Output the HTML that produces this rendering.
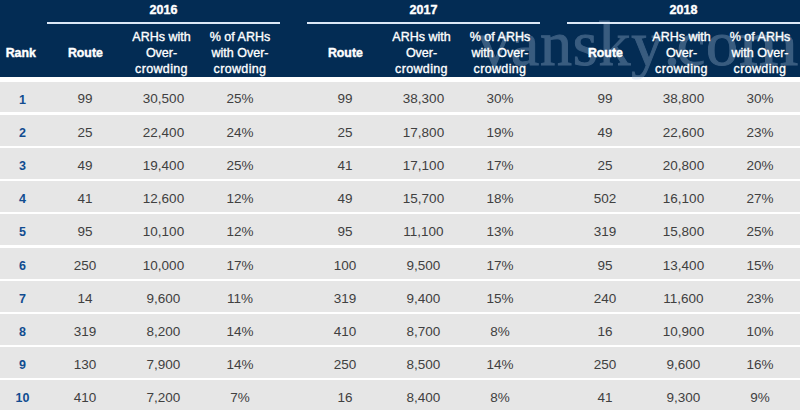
<!DOCTYPE html>
<html><head><meta charset="utf-8"><style>
*{margin:0;padding:0;box-sizing:border-box}
html,body{width:800px;height:410px;overflow:hidden;background:#fff}
body{position:relative;font-family:"Liberation Sans",sans-serif}
.hd{position:absolute;left:0;top:0;width:800px;height:77px;background:#032c54}
.yr{position:absolute;top:0;height:22px;line-height:21px;text-align:center;color:#fff;font-weight:bold;font-size:12.5px;-webkit-text-stroke:0.4px #fff}
.ul{position:absolute;top:22px;height:2px;background:#dbe8f7}
.hc{position:absolute;color:#fff;text-align:center;font-size:12.5px;line-height:16.4px;-webkit-text-stroke:0.35px #fff}
.hb{position:absolute;color:#fff;text-align:center;font-size:13.7px;font-weight:bold;-webkit-text-stroke:0.45px #fff}
.hb span{display:inline-block;transform:scaleX(0.9)}
.row{position:absolute;left:0;width:800px;background:#e6e6e6}
.c{position:absolute;top:0;text-align:center;font-size:13.5px;color:#404040}
.rk{position:absolute;top:0;left:0;width:45px;text-align:center;font-size:12.5px;font-weight:bold;color:#114c90}
.wm{position:absolute;left:478px;top:0;font-family:"Liberation Serif",serif;font-size:64px;letter-spacing:0.8px;color:rgb(176,198,224);opacity:0.31;-webkit-text-stroke:1px rgb(176,198,224);white-space:nowrap;line-height:1}
</style></head>
<body>
<div class="hd"></div>
<div class="wm" style="top:12px">vansky<span style="position:relative;left:4px">.</span>co<span style="display:inline-block;transform:scaleX(1.19);transform-origin:0 0">m</span></div>
<div class="yr" style="left:47px;width:233px">2016</div>
<div class="ul" style="left:47px;width:233px"></div>
<div class="yr" style="left:307px;width:233px">2017</div>
<div class="ul" style="left:307px;width:233px"></div>
<div class="yr" style="left:567px;width:233px">2018</div>
<div class="ul" style="left:567px;width:233px"></div>
<div class="hb" style="left:0;width:41px;top:45px;line-height:16px"><span>Rank</span></div>
<div class="hb" style="left:47px;width:76px;top:45px;line-height:16px"><span>Route</span></div>
<div class="hc" style="left:123px;width:77px;top:28.5px">ARHs with<br>Over-<br><span style="letter-spacing:0.35px">crowding</span></div>
<div class="hc" style="left:200px;width:80px;top:28.5px">% of ARHs<br>with Over-<br><span style="letter-spacing:0.35px">crowding</span></div>
<div class="hb" style="left:307px;width:76px;top:45px;line-height:16px"><span>Route</span></div>
<div class="hc" style="left:383px;width:77px;top:28.5px">ARHs with<br>Over-<br><span style="letter-spacing:0.35px">crowding</span></div>
<div class="hc" style="left:460px;width:80px;top:28.5px">% of ARHs<br>with Over-<br><span style="letter-spacing:0.35px">crowding</span></div>
<div class="hb" style="left:567px;width:76px;top:45px;line-height:16px"><span>Route</span></div>
<div class="hc" style="left:643px;width:77px;top:28.5px">ARHs with<br>Over-<br><span style="letter-spacing:0.35px">crowding</span></div>
<div class="hc" style="left:720px;width:80px;top:28.5px">% of ARHs<br>with Over-<br><span style="letter-spacing:0.35px">crowding</span></div>
<div class="row" style="top:82px;height:30px"><div class="rk" style="line-height:30px;padding-top:3px">1</div><div class="c" style="left:47px;width:76px;line-height:30px;padding-top:1.5px">99</div><div class="c" style="left:125px;width:77px;line-height:30px;padding-top:1.5px">30,500</div><div class="c" style="left:200px;width:80px;line-height:30px;padding-top:1.5px">25%</div><div class="c" style="left:307px;width:76px;line-height:30px;padding-top:1.5px">99</div><div class="c" style="left:385px;width:77px;line-height:30px;padding-top:1.5px">38,300</div><div class="c" style="left:460px;width:80px;line-height:30px;padding-top:1.5px">30%</div><div class="c" style="left:567px;width:76px;line-height:30px;padding-top:1.5px">99</div><div class="c" style="left:645px;width:77px;line-height:30px;padding-top:1.5px">38,800</div><div class="c" style="left:720px;width:80px;line-height:30px;padding-top:1.5px">30%</div></div>
<div class="row" style="top:115px;height:31px"><div class="rk" style="line-height:31px;padding-top:3px">2</div><div class="c" style="left:47px;width:76px;line-height:31px;padding-top:1.5px">25</div><div class="c" style="left:125px;width:77px;line-height:31px;padding-top:1.5px">22,400</div><div class="c" style="left:200px;width:80px;line-height:31px;padding-top:1.5px">24%</div><div class="c" style="left:307px;width:76px;line-height:31px;padding-top:1.5px">25</div><div class="c" style="left:385px;width:77px;line-height:31px;padding-top:1.5px">17,800</div><div class="c" style="left:460px;width:80px;line-height:31px;padding-top:1.5px">19%</div><div class="c" style="left:567px;width:76px;line-height:31px;padding-top:1.5px">49</div><div class="c" style="left:645px;width:77px;line-height:31px;padding-top:1.5px">22,600</div><div class="c" style="left:720px;width:80px;line-height:31px;padding-top:1.5px">23%</div></div>
<div class="row" style="top:148px;height:31px"><div class="rk" style="line-height:31px;padding-top:3px">3</div><div class="c" style="left:47px;width:76px;line-height:31px;padding-top:1.5px">49</div><div class="c" style="left:125px;width:77px;line-height:31px;padding-top:1.5px">19,400</div><div class="c" style="left:200px;width:80px;line-height:31px;padding-top:1.5px">25%</div><div class="c" style="left:307px;width:76px;line-height:31px;padding-top:1.5px">41</div><div class="c" style="left:385px;width:77px;line-height:31px;padding-top:1.5px">17,100</div><div class="c" style="left:460px;width:80px;line-height:31px;padding-top:1.5px">17%</div><div class="c" style="left:567px;width:76px;line-height:31px;padding-top:1.5px">25</div><div class="c" style="left:645px;width:77px;line-height:31px;padding-top:1.5px">20,800</div><div class="c" style="left:720px;width:80px;line-height:31px;padding-top:1.5px">20%</div></div>
<div class="row" style="top:181px;height:31px"><div class="rk" style="line-height:31px;padding-top:3px">4</div><div class="c" style="left:47px;width:76px;line-height:31px;padding-top:1.5px">41</div><div class="c" style="left:125px;width:77px;line-height:31px;padding-top:1.5px">12,600</div><div class="c" style="left:200px;width:80px;line-height:31px;padding-top:1.5px">12%</div><div class="c" style="left:307px;width:76px;line-height:31px;padding-top:1.5px">49</div><div class="c" style="left:385px;width:77px;line-height:31px;padding-top:1.5px">15,700</div><div class="c" style="left:460px;width:80px;line-height:31px;padding-top:1.5px">18%</div><div class="c" style="left:567px;width:76px;line-height:31px;padding-top:1.5px">502</div><div class="c" style="left:645px;width:77px;line-height:31px;padding-top:1.5px">16,100</div><div class="c" style="left:720px;width:80px;line-height:31px;padding-top:1.5px">27%</div></div>
<div class="row" style="top:214px;height:31px"><div class="rk" style="line-height:31px;padding-top:3px">5</div><div class="c" style="left:47px;width:76px;line-height:31px;padding-top:1.5px">95</div><div class="c" style="left:125px;width:77px;line-height:31px;padding-top:1.5px">10,100</div><div class="c" style="left:200px;width:80px;line-height:31px;padding-top:1.5px">12%</div><div class="c" style="left:307px;width:76px;line-height:31px;padding-top:1.5px">95</div><div class="c" style="left:385px;width:77px;line-height:31px;padding-top:1.5px">11,100</div><div class="c" style="left:460px;width:80px;line-height:31px;padding-top:1.5px">13%</div><div class="c" style="left:567px;width:76px;line-height:31px;padding-top:1.5px">319</div><div class="c" style="left:645px;width:77px;line-height:31px;padding-top:1.5px">15,800</div><div class="c" style="left:720px;width:80px;line-height:31px;padding-top:1.5px">25%</div></div>
<div class="row" style="top:248px;height:31px"><div class="rk" style="line-height:31px;padding-top:3px">6</div><div class="c" style="left:47px;width:76px;line-height:31px;padding-top:1.5px">250</div><div class="c" style="left:125px;width:77px;line-height:31px;padding-top:1.5px">10,000</div><div class="c" style="left:200px;width:80px;line-height:31px;padding-top:1.5px">17%</div><div class="c" style="left:307px;width:76px;line-height:31px;padding-top:1.5px">100</div><div class="c" style="left:385px;width:77px;line-height:31px;padding-top:1.5px">9,500</div><div class="c" style="left:460px;width:80px;line-height:31px;padding-top:1.5px">17%</div><div class="c" style="left:567px;width:76px;line-height:31px;padding-top:1.5px">95</div><div class="c" style="left:645px;width:77px;line-height:31px;padding-top:1.5px">13,400</div><div class="c" style="left:720px;width:80px;line-height:31px;padding-top:1.5px">15%</div></div>
<div class="row" style="top:281px;height:31px"><div class="rk" style="line-height:31px;padding-top:3px">7</div><div class="c" style="left:47px;width:76px;line-height:31px;padding-top:1.5px">14</div><div class="c" style="left:125px;width:77px;line-height:31px;padding-top:1.5px">9,600</div><div class="c" style="left:200px;width:80px;line-height:31px;padding-top:1.5px">11%</div><div class="c" style="left:307px;width:76px;line-height:31px;padding-top:1.5px">319</div><div class="c" style="left:385px;width:77px;line-height:31px;padding-top:1.5px">9,400</div><div class="c" style="left:460px;width:80px;line-height:31px;padding-top:1.5px">15%</div><div class="c" style="left:567px;width:76px;line-height:31px;padding-top:1.5px">240</div><div class="c" style="left:645px;width:77px;line-height:31px;padding-top:1.5px">11,600</div><div class="c" style="left:720px;width:80px;line-height:31px;padding-top:1.5px">23%</div></div>
<div class="row" style="top:314px;height:31px"><div class="rk" style="line-height:31px;padding-top:3px">8</div><div class="c" style="left:47px;width:76px;line-height:31px;padding-top:1.5px">319</div><div class="c" style="left:125px;width:77px;line-height:31px;padding-top:1.5px">8,200</div><div class="c" style="left:200px;width:80px;line-height:31px;padding-top:1.5px">14%</div><div class="c" style="left:307px;width:76px;line-height:31px;padding-top:1.5px">410</div><div class="c" style="left:385px;width:77px;line-height:31px;padding-top:1.5px">8,700</div><div class="c" style="left:460px;width:80px;line-height:31px;padding-top:1.5px">8%</div><div class="c" style="left:567px;width:76px;line-height:31px;padding-top:1.5px">16</div><div class="c" style="left:645px;width:77px;line-height:31px;padding-top:1.5px">10,900</div><div class="c" style="left:720px;width:80px;line-height:31px;padding-top:1.5px">10%</div></div>
<div class="row" style="top:347px;height:31px"><div class="rk" style="line-height:31px;padding-top:3px">9</div><div class="c" style="left:47px;width:76px;line-height:31px;padding-top:1.5px">130</div><div class="c" style="left:125px;width:77px;line-height:31px;padding-top:1.5px">7,900</div><div class="c" style="left:200px;width:80px;line-height:31px;padding-top:1.5px">14%</div><div class="c" style="left:307px;width:76px;line-height:31px;padding-top:1.5px">250</div><div class="c" style="left:385px;width:77px;line-height:31px;padding-top:1.5px">8,500</div><div class="c" style="left:460px;width:80px;line-height:31px;padding-top:1.5px">14%</div><div class="c" style="left:567px;width:76px;line-height:31px;padding-top:1.5px">250</div><div class="c" style="left:645px;width:77px;line-height:31px;padding-top:1.5px">9,600</div><div class="c" style="left:720px;width:80px;line-height:31px;padding-top:1.5px">16%</div></div>
<div class="row" style="top:380px;height:31px"><div class="rk" style="line-height:31px;padding-top:3px">10</div><div class="c" style="left:47px;width:76px;line-height:31px;padding-top:1.5px">410</div><div class="c" style="left:125px;width:77px;line-height:31px;padding-top:1.5px">7,200</div><div class="c" style="left:200px;width:80px;line-height:31px;padding-top:1.5px">7%</div><div class="c" style="left:307px;width:76px;line-height:31px;padding-top:1.5px">16</div><div class="c" style="left:385px;width:77px;line-height:31px;padding-top:1.5px">8,400</div><div class="c" style="left:460px;width:80px;line-height:31px;padding-top:1.5px">8%</div><div class="c" style="left:567px;width:76px;line-height:31px;padding-top:1.5px">41</div><div class="c" style="left:645px;width:77px;line-height:31px;padding-top:1.5px">9,300</div><div class="c" style="left:720px;width:80px;line-height:31px;padding-top:1.5px">9%</div></div>
</body></html>
